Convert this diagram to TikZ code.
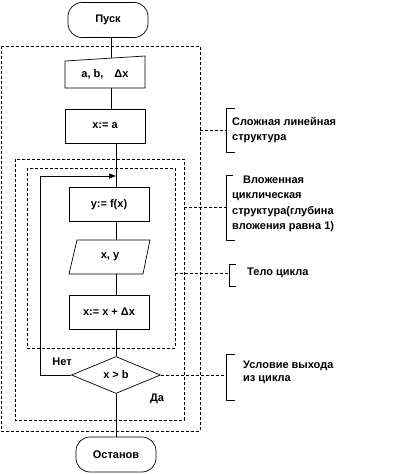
\documentclass[tikz,border=0pt]{standalone}
\usepackage{fontspec}
\setmainfont{Liberation Sans}
\usetikzlibrary{shapes.geometric,arrows.meta}
\begin{document}
\begin{tikzpicture}[x=1pt,y=-1pt,
  font=\bfseries\fontsize{11}{15}\selectfont,
  ln/.style={draw=black, line width=0.7pt},
  box/.style={draw=black, line width=0.7pt, minimum width=80pt, minimum height=34pt, inner sep=0pt},
  term/.style={draw=black, line width=0.7pt, rounded corners=14pt, minimum width=80pt, minimum height=35pt, inner sep=0pt},
  ghost/.style={inner sep=0pt, minimum width=66pt, minimum height=34pt},
  dia/.style={draw=black, line width=0.7pt, diamond, minimum width=89pt, minimum height=37pt, inner sep=0pt},
  dashbox/.style={draw=black, line width=0.6pt, dash pattern=on 3pt off 2pt},
  brk/.style={draw=black, line width=0.7pt},
  lbl/.style={anchor=west, align=left, inner sep=0pt},
  arr/.style={-{Triangle[length=7pt,width=5pt]}}
]
\useasboundingbox (0,0) rectangle (406,474);

% dashed regions
\draw[dashbox] (1,46) rectangle (200,431);
\draw[dashbox] (15,159) rectangle (184,420);
\draw[dashbox] (27,168) rectangle (175,348);

% column coordinates
\coordinate (colA) at (111,0);
\coordinate (colB) at (116,0);

% nodes
\node[term] (pusk) at (108,20) {Пуск};
\draw[ln] (65,61) -- (145,56) -- (145,88) -- (65,88) -- cycle;
\coordinate (inpTop) at (111,58);
\node[ghost, minimum height=27pt] (inp) at (105,74.5) {a, b,\quad Δx};
\node[box] (xa) at (105,126) {x:= a};
\node[box] (yf) at (109,204.5) {y:= f(x)};
\draw[ln] (77,240) -- (150,240) -- (143,274) -- (69,274) -- cycle;
\node[ghost] (xy) at (110,257) {x, y};
\node[box] (xdx) at (109,312) {x:= x + Δx};
\node[dia] (cond) at (116,375) {x > b};
\node[term] (stop) at (116,454.5) {Останов};

% connectors
\draw[ln] (pusk.south -| inpTop) -- (inpTop);
\draw[ln] (inp.south -| colA) -- (xa.north -| colA);
\draw[ln] (xa.south -| colB) -- (yf.north -| colB);
\draw[ln] (yf.south -| colB) -- (xy.north -| colB);
\draw[ln] (xy.south -| colB) -- (xdx.north -| colB);
\draw[ln] (xdx.south -| colB) -- (cond.north);
\draw[ln] (cond.south) -- (stop.north);
\coordinate (lp) at (40,176);
\draw[ln,arr] (cond.west) -| (lp) -- (lp -| colB);

\node[inner sep=0pt] (net) at (62,362) {Нет};
\node[inner sep=0pt] (da) at (157,399) {Да};

% annotations
\coordinate (b1) at (226,130);
\draw[dashbox] (200,130) -- (b1);
\draw[brk] (235,108) -- (226,108) -- (226,152) -- (235,152);
\node[lbl] (t1) at (232,130) {Сложная линейная\\структура};

\coordinate (b2) at (226,207);
\draw[dashbox] (184,207) -- (b2);
\draw[brk] (233,175) -- (226,175) -- (226,240) -- (235,240);
\node[lbl, font=\bfseries\fontsize{11}{15.5}\selectfont] (t2) at (232,204) {\hspace{11pt}Вложенная\\циклическая\\структура(глубина\\вложения равна 1)};

\coordinate (b3) at (229,273);
\draw[dashbox] (175,273) -- (b3);
\draw[brk] (236,264) -- (229,264) -- (229,286) -- (236,286);
\node[lbl] (t3) at (247,273) {Тело цикла};

\coordinate (b4) at (226,375);
\draw[dashbox] (cond.east) -- (b4);
\draw[brk] (235,354) -- (226,354) -- (226,400) -- (235,400);
\node[lbl, font=\bfseries\fontsize{11}{13.5}\selectfont] (t4) at (243,372.5) {Условие выхода\\из цикла};
\end{tikzpicture}
\end{document}
